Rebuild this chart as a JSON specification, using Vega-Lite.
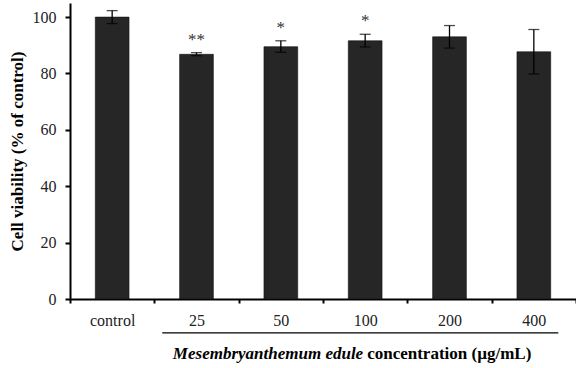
{
  "$schema": "https://vega.github.io/schema/vega-lite/v6.json",
  "autosize": "none",
  "width": 506,
  "height": 296,
  "padding": {"left": 70, "top": 3, "right": 0, "bottom": 69},
  "background": "white",
  "config": {"view": {"stroke": null}},
  "data": {
    "values": [
      {"group": "control", "mean": 100.0, "lo": 97.7, "hi": 102.3, "star": ""},
      {"group": "25", "mean": 86.8, "lo": 86.3, "hi": 87.4, "star": "**"},
      {"group": "50", "mean": 89.5, "lo": 87.5, "hi": 91.6, "star": "*"},
      {"group": "100", "mean": 91.6, "lo": 89.4, "hi": 93.9, "star": "*"},
      {"group": "200", "mean": 93.0, "lo": 89.0, "hi": 97.0, "star": ""},
      {"group": "400", "mean": 87.7, "lo": 79.8, "hi": 95.6, "star": ""}
    ]
  },
  "encoding": {
    "x": {
      "field": "group",
      "type": "nominal",
      "sort": null,
      "scale": {"domain": ["control", "25", "50", "100", "200", "400"], "paddingInner": 0, "paddingOuter": 0},
      "axis": {
        "title": null,
        "labelAngle": 0,
        "tickBand": "extent",
        "domainColor": "black",
        "domainWidth": 2,
        "tickColor": "black",
        "tickWidth": 2,
        "tickSize": 4,
        "labelPadding": 9,
        "labelFont": "Liberation Serif",
        "labelFontSize": 16,
        "labelColor": "#222"
      }
    }
  },
  "layer": [
    {
      "mark": {"type": "bar", "width": {"band": 0.4}, "color": "#262626", "stroke": "#111", "strokeWidth": 0.6},
      "encoding": {
        "y": {
          "field": "mean",
          "type": "quantitative",
          "scale": {"domain": [0, 105], "nice": false},
          "axis": {
            "values": [0, 20, 40, 60, 80, 100],
            "grid": false,
            "domainColor": "black",
            "domainWidth": 2,
            "tickColor": "black",
            "tickWidth": 2,
            "tickSize": 5,
            "labelPadding": 9,
            "labelFont": "Liberation Serif",
            "labelFontSize": 16,
            "labelColor": "#222",
            "title": "Cell viability (% of control)",
            "titleFont": "Liberation Serif",
            "titleFontSize": 17,
            "titleFontWeight": "bold",
            "titleColor": "black",
            "titlePadding": 6
          }
        }
      }
    },
    {
      "mark": {"type": "rule", "color": "black", "strokeWidth": 1.3},
      "encoding": {
        "y": {"field": "lo", "type": "quantitative"},
        "y2": {"field": "hi"}
      }
    },
    {
      "mark": {"type": "tick", "color": "black", "size": 11, "thickness": 1.3},
      "encoding": {"y": {"field": "lo", "type": "quantitative"}}
    },
    {
      "mark": {"type": "tick", "color": "black", "size": 11, "thickness": 1.3},
      "encoding": {"y": {"field": "hi", "type": "quantitative"}}
    },
    {
      "mark": {"type": "text", "font": "Liberation Serif", "fontSize": 17, "color": "#333", "baseline": "alphabetic", "dy": -8},
      "encoding": {
        "y": {"field": "hi", "type": "quantitative"},
        "text": {"field": "star"}
      }
    },
    {
      "data": {"values": [{}]},
      "mark": {"type": "rule", "color": "black", "strokeWidth": 1.3},
      "encoding": {
        "x": {"datum": "25", "bandPosition": 0.094},
        "x2": {"datum": "400", "bandPosition": 0.79},
        "y": {"datum": -12}
      }
    },
    {
      "data": {"values": [{}]},
      "mark": {"type": "text", "font": "Liberation Serif", "fontSize": 17, "fontWeight": "bold", "fontStyle": "italic", "align": "right", "baseline": "middle", "dx": -2, "color": "black"},
      "encoding": {
        "x": {"datum": "100", "bandPosition": 0.5},
        "y": {"datum": -19.5},
        "text": {"value": "Mesembryanthemum edule"}
      }
    },
    {
      "data": {"values": [{}]},
      "mark": {"type": "text", "font": "Liberation Serif", "fontSize": 17, "fontWeight": "bold", "align": "left", "baseline": "middle", "dx": 2, "color": "black"},
      "encoding": {
        "x": {"datum": "100", "bandPosition": 0.5},
        "y": {"datum": -19.5},
        "text": {"value": "concentration (µg/mL)"}
      }
    }
  ]
}
